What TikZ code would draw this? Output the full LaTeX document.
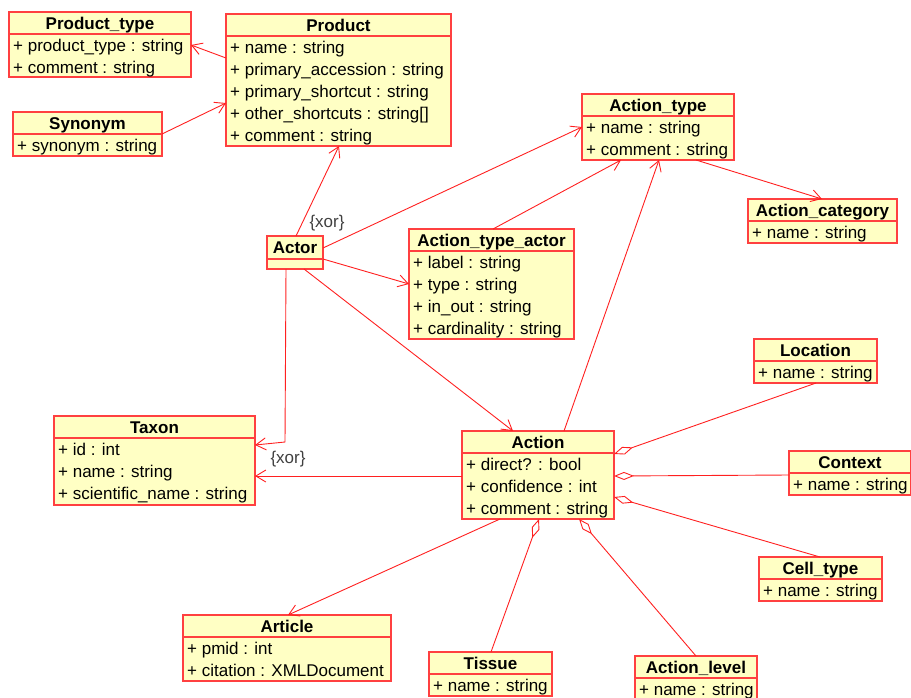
\documentclass[tikz,border=0pt]{standalone}
\usepackage{fontspec}
\setmainfont{Liberation Sans}
\usetikzlibrary{arrows.meta,calc}
\definecolor{boxfill}{RGB}{255,255,196}
\definecolor{boxline}{RGB}{255,64,64}
\definecolor{conn}{RGB}{255,32,32}
\definecolor{xorgray}{RGB}{64,64,64}
\tikzset{
 umlbox/.style={draw=boxline, fill=boxfill, line width=1.3pt, inner sep=0pt, outer sep=0pt, rectangle},
 umldiv/.style={draw=boxline, line width=1.2pt},
 umltitle/.style={font=\fontsize{17}{20}\selectfont\bfseries, inner sep=0pt},
 umlattr/.style={font=\fontsize{17}{20}\selectfont, inner sep=0pt},
 assoc/.style={draw=conn, line width=0.9pt, -{Straight Barb[length=10pt,width=12pt]}},
 aggr/.style={draw=conn, line width=0.9pt, -{Diamond[open,length=20pt,width=8pt]}},
 xorlabel/.style={font=\fontsize{17}{20}\selectfont, text=xorgray, inner sep=0pt},
}
\newcommand\umlclass[7]{%
 \node[umlbox, minimum width=#4pt, minimum height=#5pt, anchor=north west] (#1) at (#2,#3) {};
 \draw[umldiv] ($(#1.north west)+(0,22)$) -- ($(#1.north east)+(0,22)$);
 \node[umltitle, anchor=base] at ($(#1.north)+(0,17)$) {#6};
 \foreach \r [count=\i] in {#7} {\node[umlattr, anchor=base west] at ($(#1.north west)+(4,17+22*\i)$) {\r};}
}
\begin{document}
\begin{tikzpicture}[x=1pt,y=-1pt]
\useasboundingbox (0,0) rectangle (911,697);
% classes
\umlclass{ptype}{9}{12}{182}{65}{Product\_type}{{+ product\_type : string},{+ comment : string}}
\umlclass{prod}{226}{14}{225}{132}{Product}{{+ name : string},{+ primary\_accession : string},{+ primary\_shortcut : string},{+ other\_shortcuts : string[]},{+ comment : string}}
\umlclass{syn}{13}{112}{149}{44}{Synonym}{{+ synonym : string}}
\umlclass{atype}{582}{94}{152}{66}{Action\_type}{{+ name : string},{+ comment : string}}
\umlclass{acat}{748}{199}{149}{44}{Action\_category}{{+ name : string}}
\node[umlbox, minimum width=56pt, minimum height=33pt, anchor=north west] (actor) at (267,236) {};
\draw[umldiv] ($(actor.north west)+(0,23)$) -- ($(actor.north east)+(0,23)$);
\node[umltitle, anchor=base] (actortitle) at ($(actor.north)+(0,17)$) {Actor};
\umlclass{ata}{409}{229}{165}{110}{Action\_type\_actor}{{+ label : string},{+ type : string},{+ in\_out : string},{+ cardinality : string}}
\umlclass{loc}{754}{339}{123}{44}{Location}{{+ name : string}}
\umlclass{taxon}{54}{416}{201}{89}{Taxon}{{+ id : int},{+ name : string},{+ scientific\_name : string}}
\umlclass{action}{462}{431}{152}{88}{Action}{{+ direct? : bool},{+ confidence : int},{+ comment : string}}
\umlclass{ctx}{789}{451}{122}{44}{Context}{{+ name : string}}
\umlclass{cell}{759}{557}{123}{44}{Cell\_type}{{+ name : string}}
\umlclass{article}{183}{615}{208}{66}{Article}{{+ pmid : int},{+ citation : XMLDocument}}
\umlclass{tissue}{429}{652}{123}{44}{Tissue}{{+ name : string}}
\umlclass{alevel}{635}{656}{122}{44}{Action\_level}{{+ name : string}}
% connectors
\draw[assoc] ($(prod.north west)+(0,44)$) -- ($(ptype.north east)+(0,33)$);
\draw[assoc] ($(syn.north east)+(0,22)$) -- ($(prod.north west)+(0,89)$);
\draw[assoc] ($(actor.north west)+(29,0)$) -- ($(prod.south west)+(113,0)$);
\draw[assoc] ($(actor.north east)+(0,12)$) -- ($(atype.north west)+(0,33)$);
\draw[assoc] ($(ata.north west)+(84,0)$) -- ($(atype.south west)+(39,0)$);
\draw[assoc] ($(actor.north east)+(0,23)$) -- ($(ata.north west)+(0,55)$);
\draw[assoc] ($(actor.south west)+(37,0)$) -- ($(action.north west)+(51,0)$);
\coordinate (txbend) at (285,442);
\draw[assoc] ($(actor.south west)+(19,0)$) -- (txbend) -- ($(taxon.north east)+(0,29)$);
\draw[assoc] ($(action.north west)+(0,45)$) -- ($(taxon.north east)+(0,60)$);
\draw[assoc] ($(action.north west)+(102,0)$) -- ($(atype.south west)+(77,0)$);
\draw[assoc] ($(atype.south west)+(114,0)$) -- ($(acat.north west)+(74,0)$);
\draw[aggr] ($(loc.south west)+(62,0)$) -- ($(action.north east)+(0,23)$);
\draw[aggr] ($(ctx.north west)+(0,24)$) -- ($(action.north east)+(0,45)$);
\draw[aggr] ($(cell.north west)+(61,0)$) -- ($(action.north east)+(0,66)$);
\draw[assoc] ($(action.south west)+(38,0)$) -- ($(article.north west)+(105,0)$);
\draw[aggr] ($(tissue.north west)+(62,0)$) -- ($(action.south west)+(77,0)$);
\draw[aggr] ($(alevel.north west)+(61,0)$) -- ($(action.south west)+(117,0)$);
% labels
\node[xorlabel] (xor1) at (327,223) {\{xor\}};
\node[xorlabel] (xor2) at (288,459) {\{xor\}};
\end{tikzpicture}
\end{document}
